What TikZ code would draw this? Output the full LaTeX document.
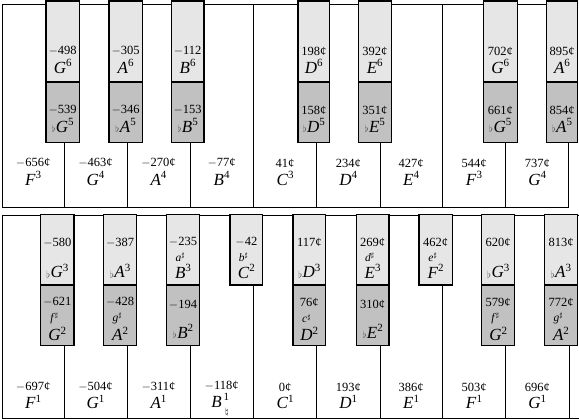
\documentclass[tikz,border=0pt]{standalone}
\usepackage{fontspec}
\setmainfont{Liberation Serif}
\definecolor{klight}{HTML}{E6E6E6}
\definecolor{kdark}{HTML}{C1C1C1}
\newcommand\nsup[1]{\raisebox{6.5pt}{\fontsize{11}{11}\selectfont\upshape #1}}
\newcommand\fl{\raisebox{-0.5pt}{\fontsize{10}{10}\selectfont\color{black!70}$\flat$}\kern0.5pt}
\newcommand\shp[1]{\textit{#1}\raisebox{3.5pt}{\fontsize{7}{7}\selectfont$\sharp$}}
\newcommand\nt[2]{\textit{#1}\nsup{#2}}
\tikzset{
  wline/.style={line width=0.9pt},
  bkey/.style={draw, line width=1.5pt},
  num/.style={font=\fontsize{12.5}{12.5}\selectfont, inner sep=0pt},
  note/.style={font=\fontsize{17}{17}\selectfont, inner sep=0pt},
  acc/.style={font=\fontsize{11.5}{11.5}\selectfont, inner sep=0pt},
  supnum/.style={font=\fontsize{11}{11}\selectfont, inner sep=0pt},
}
\begin{document}
\begin{tikzpicture}[x=1pt,y=-1pt]
\useasboundingbox (0,0) rectangle (579,419);
% ===== top keyboard =====
\draw[wline] (2.3,207) -- (2.3,4.7) -- (568.3,4.7) -- (568.3,207) -- cycle;
\foreach \x in {64,127,190,253.3,316.7,380,442.3,505.7}
  \draw[wline] (\x,4.7) -- (\x,207);
\foreach \a/\b in {46/79.3,109/142.3,171.3/204,298/329.7,358.3/391.3,483.3/517.3,546.3/577.7}{
  \draw[bkey,fill=kdark] (\a,82) rectangle (\b,142.7);
  \draw[bkey,fill=klight] (\a,0.8) rectangle (\b,82);
}
% white labels top
\foreach \x/\n/\l/\s [count=\i] in {33.15/$-$656¢/F/3, 95.5/$-$463¢/G/4, 158.5/$-$270¢/A/4, 221.65/$-$77¢/B/4, 285/41¢/C/3, 348.35/234¢/D/4, 411.15/427¢/E/4, 474/544¢/F/3, 537.35/737¢/G/4}{
  \node[num] (twn\i) at (\x,163) {\n};
  \node[note] (twl\i) at (\x,178.5) {\nt{\l}{\s}};
}
% black light labels top
\foreach \x/\n/\l/\s [count=\i] in {62.65/$-$498/G/6, 125.65/$-$305/A/6, 187.65/$-$112/B/6, 313.85/198¢/D/6, 374.8/392¢/E/6, 500.3/702¢/G/6, 562/895¢/A/6}{
  \node[num] (tln\i) at (\x,51) {\n};
  \node[note] (tll\i) at (\x,66.5) {\nt{\l}{\s}};
}
% black dark labels top
\foreach \x/\n/\l/\s [count=\i] in {62.65/$-$539/G/5, 125.65/$-$346/A/5, 187.65/$-$153/B/5, 313.85/158¢/D/5, 374.8/351¢/E/5, 500.3/661¢/G/5, 562/854¢/A/5}{
  \node[num] (tdn\i) at (\x,110) {\n};
  \node[note] (tdl\i) at (\x,125.5) {\fl\nt{\l}{\s}};
}
% ===== bottom keyboard =====
\draw[wline] (580,215) -- (2,215) -- (2,418) -- (580,418);
\foreach \x in {64,127,190,253.3,316.7,380,442.3,505.7,569}
  \draw[wline] (\x,215) -- (\x,418);
\foreach \a/\b in {40.7/74,103.7/136.7,166.7/199.3,293/325.7,356.3/389,481.7/514.7,544.3/577.7}
  \draw[bkey,fill=kdark] (\a,285) rectangle (\b,345.7);
\foreach \a/\b in {40.7/74,103.7/136.7,166.7/199.3,230/262.7,293/325.7,356.3/389,419/452.3,481.7/514.7,544.3/577.7}
  \draw[bkey,fill=klight] (\a,214.5) rectangle (\b,285);
% white labels bottom
\foreach \x/\n/\l/\s [count=\i] in {33.15/$-$697¢/F/1, 95.5/$-$504¢/G/1, 158.5/$-$311¢/A/1, 285/0¢/C/1, 348.35/193¢/D/1, 411.15/386¢/E/1, 474/503¢/F/1, 537.35/696¢/G/1}{
  \node[num] (bwn\i) at (\x,387) {\n};
  \node[note] (bwl\i) at (\x,402) {\nt{\l}{\s}};
}
\node[num] (bwnB) at (221.65,385.5) {$-$118¢};
\node[note, anchor=base] (bwlB) at (216.5,408) {\textit{B}};
\node[supnum, anchor=base west] (bwsB) at ([xshift=1.5pt,yshift=7.5pt]bwlB.base east) {1};
\node[supnum, anchor=base west] (bwnatB) at ([xshift=3pt,yshift=-7pt]bwlB.base east) {\fontsize{9}{9}\selectfont$\natural$};
% black light labels bottom, two-line
\foreach \x/\n/\l/\s [count=\i] in {57.35/$-$580/G/3, 120.2/$-$387/A/3, 309.35/117¢/D/3, 498.2/620¢/G/3, 561/813¢/A/3}{
  \node[num] (bln\i) at (\x,242.5) {\n};
  \node[note] (bll\i) at (\x,271) {\fl\nt{\l}{\s}};
}
% black light labels bottom, three-line
\foreach \x/\n/\a/\l/\s [count=\i] in {183/$-$235/a/B/3, 246.35/$-$42/b/C/2, 372.65/269¢/d/E/3, 435.65/462¢/e/F/2}{
  \node[num] (blm\i) at (\x,242) {\n};
  \node[acc] (bla\i) at ([xshift=-3pt]\x,257) {\shp{\a}};
  \node[note] (blk\i) at (\x,271.5) {\nt{\l}{\s}};
}
% black dark labels bottom, three-line
\foreach \x/\n/\a/\l/\s [count=\i] in {57.35/$-$621/f/G/2, 120.2/$-$428/g/A/2, 309.35/76¢/c/D/2, 498.2/579¢/f/G/2, 561/772¢/g/A/2}{
  \node[num] (bdn\i) at (\x,302) {\n};
  \node[acc] (bda\i) at ([xshift=-3pt]\x,318.5) {\shp{\a}};
  \node[note] (bdl\i) at (\x,334) {\nt{\l}{\s}};
}
% black dark labels bottom, two-line
\foreach \x/\n/\l/\s [count=\i] in {183/$-$194/B/2, 372.65/310¢/E/2}{
  \node[num] (bdm\i) at (\x,304.5) {\n};
  \node[note] (bdk\i) at (\x,331.5) {\fl\nt{\l}{\s}};
}
\end{tikzpicture}
\end{document}
